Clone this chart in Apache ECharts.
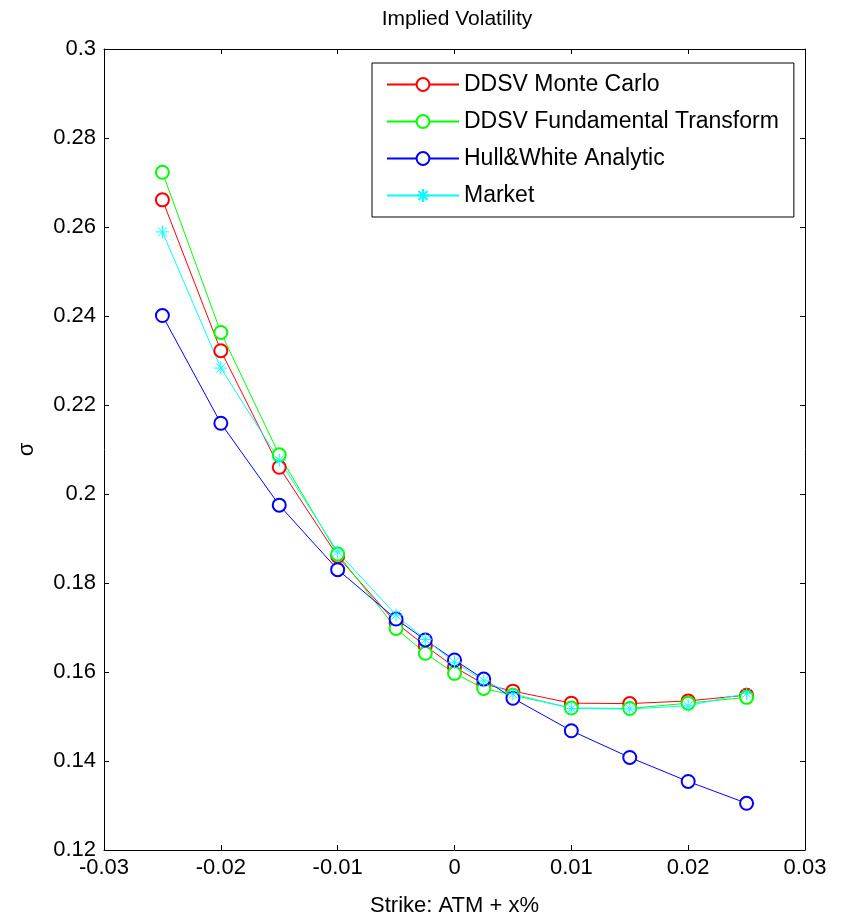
<!DOCTYPE html>
<html>
<head>
<meta charset="utf-8">
<script src="https://cdn.jsdelivr.net/npm/echarts@6/dist/echarts.min.js"></script>
<style>html,body{margin:0;padding:0;background:#fff;}#c{width:842px;height:918px;}</style>
</head>
<body>
<div id="c"></div>
<script>
const strikes = [-0.025, -0.02, -0.015, -0.01, -0.005, -0.0025, 0, 0.0025, 0.005, 0.01, 0.015, 0.02, 0.025];
const ddsvMonteCarlo = [0.2661, 0.2322, 0.2060, 0.1860, 0.1710, 0.1659, 0.1611, 0.1573, 0.1557, 0.1530, 0.1529, 0.1535, 0.1548];
const ddsvFundamental = [0.2723, 0.2363, 0.2088, 0.1865, 0.1698, 0.1642, 0.1597, 0.1563, 0.1548, 0.1519, 0.1518, 0.1530, 0.1543];
const hullWhite = [0.2401, 0.2159, 0.1975, 0.1830, 0.1719, 0.1672, 0.1627, 0.1584, 0.1541, 0.1468, 0.1408, 0.1354, 0.1305];
const market = [0.2589, 0.2283, 0.2076, 0.1870, 0.1728, 0.1673, 0.1622, 0.1580, 0.1551, 0.1518, 0.1517, 0.1524, 0.1552];
const seriesNames = ['DDSV Monte Carlo', 'DDSV Fundamental Transform', 'Hull&White Analytic', 'Market'];
const xTicks = [-0.03, -0.02, -0.01, 0, 0.01, 0.02, 0.03];
const yTicks = [0.12, 0.14, 0.16, 0.18, 0.2, 0.22, 0.24, 0.26, 0.28, 0.3];

const FONT = 'Liberation Sans, Arial, sans-serif';
const star = 'path://M5,0L5,10M0,5L10,5M1.5,1.5L8.5,8.5M8.5,1.5L1.5,8.5';
function pairs(ys){ return strikes.map((x,i)=>[x, ys[i]]); }
function fmt(v){ return String(parseFloat(v.toFixed(4))); }

const chart = echarts.init(document.getElementById('c'), null, {renderer:'canvas'});
function mkSeries(name, data, color, symbol){
  return {
    name, type:'line', data:pairs(data),
    symbol, symbolSize: 13,
    showAllSymbol:true,
    lineStyle:{color, width:1},
    itemStyle:{color, borderColor:color, borderWidth:1},
    emphasis:{disabled:true},
    animation:false
  };
}
const axisCommon = {
  axisLine:{show:true, onZero:false, lineStyle:{color:'#000', width:1}},
  axisTick:{show:true, inside:true, length:5, lineStyle:{color:'#000'}},
  splitLine:{show:false}
};
chart.setOption({
  animation:false,
  graphic:[{
    type:'text', x:457, y:19,
    style:{text:'Implied Volatility', fontFamily:FONT, fontSize:21, fill:'#000', textAlign:'center', textVerticalAlign:'middle'}
  }],
  grid:{left:104, right:37, top:49, bottom:68, containLabel:false, outerBoundsMode:'none'},
  legend:{
    orient:'vertical', left:372, top:63,
    data:seriesNames,
    itemWidth:72, itemHeight:16, itemGap:14,
    padding:[10,15,10,14],
    borderColor:'#000', borderWidth:1, backgroundColor:'#fff',
    textStyle:{fontFamily:FONT, fontSize:23, color:'#000'}
  },
  xAxis:[
    Object.assign({type:'value', min:-0.03, max:0.03, interval:0.01, position:'bottom',
      name:'Strike: ATM + x%', nameLocation:'middle', nameGap:45,
      nameTextStyle:{fontFamily:FONT, fontSize:22, color:'#000'},
      axisLabel:{fontFamily:FONT, fontSize:22, color:'#000', margin:7, formatter:fmt}}, axisCommon),
    Object.assign({type:'value', min:-0.03, max:0.03, interval:0.01, position:'top', axisLabel:{show:false}}, axisCommon)
  ],
  yAxis:[
    Object.assign({type:'value', min:0.12, max:0.3, interval:0.02, position:'left',
      name:'σ', nameLocation:'middle', nameGap:66, nameRotate:90,
      nameTextStyle:{fontFamily:FONT, fontSize:22, color:'#000'},
      axisLabel:{fontFamily:FONT, fontSize:22, color:'#000', margin:8, formatter:fmt}}, axisCommon),
    Object.assign({type:'value', min:0.12, max:0.3, interval:0.02, position:'right', axisLabel:{show:false}}, axisCommon)
  ],
  series:[
    mkSeries(seriesNames[0], ddsvMonteCarlo, '#ff0000', 'emptyCircle'),
    mkSeries(seriesNames[1], ddsvFundamental, '#00ff00', 'emptyCircle'),
    mkSeries(seriesNames[2], hullWhite, '#0000ff', 'emptyCircle'),
    mkSeries(seriesNames[3], market, '#00ffff', star)
  ]
});
</script>
</body>
</html>
